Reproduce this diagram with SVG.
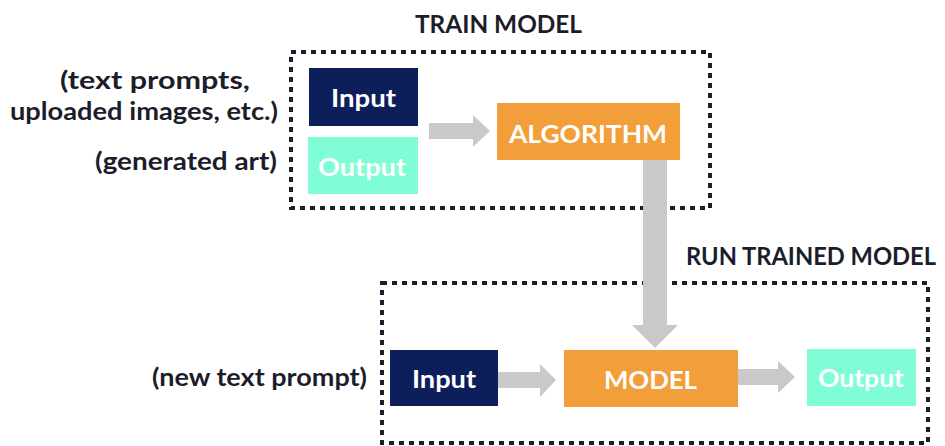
<svg xmlns="http://www.w3.org/2000/svg" width="945" height="446" viewBox="0 0 945 446">
<style>
text{font-family:Lato,"Open Sans","Liberation Sans",sans-serif;font-weight:700;font-size:25px}
.dark{fill:#1c1d2b}
.wht{fill:#ffffff}
.frame{fill:none;stroke:#1c1d2b;stroke-width:4;stroke-dasharray:5 5}
.navy{fill:#0c1f5b}
.aqua{fill:#80fdd6}
.orng{fill:#f19e3b}
.arrow{fill:#c9c9c9}
</style>
<rect width="945" height="446" fill="#ffffff"/>
<g id="train-model">
<rect class="frame" x="291" y="52" width="419" height="156"/>
<text class="dark" x="415" y="33" textLength="167" lengthAdjust="spacingAndGlyphs">TRAIN MODEL</text>
</g>
<g id="run-trained-model">
<rect class="frame" x="382" y="283" width="546" height="160"/>
<text class="dark" x="686" y="265" style="font-size:24px" textLength="250" lengthAdjust="spacingAndGlyphs">RUN TRAINED MODEL</text>
</g>
<g id="labels">
<text class="dark" x="60" y="89" textLength="190" lengthAdjust="spacingAndGlyphs">(text prompts,</text>
<text class="dark" x="10" y="120" textLength="268" lengthAdjust="spacingAndGlyphs">uploaded images, etc.)</text>
<text class="dark" x="95" y="170" textLength="182" lengthAdjust="spacingAndGlyphs">(generated art)</text>
<text class="dark" x="152" y="386" textLength="215" lengthAdjust="spacingAndGlyphs">(new text prompt)</text>
</g>
<g id="train-input">
<rect class="navy" x="309" y="68" width="109" height="58"/>
<text class="wht" x="331" y="107" textLength="65" lengthAdjust="spacingAndGlyphs">Input</text>
</g>
<g id="train-output">
<rect class="aqua" x="308" y="137" width="110" height="57"/>
<text class="wht" x="318" y="176" textLength="88" lengthAdjust="spacingAndGlyphs">Output</text>
</g>
<g id="algorithm">
<rect class="orng" x="497" y="103" width="183" height="57"/>
<text class="wht" x="509" y="143" textLength="158" lengthAdjust="spacingAndGlyphs">ALGORITHM</text>
</g>
<g id="run-input">
<rect class="navy" x="390" y="350" width="108" height="56"/>
<text class="wht" x="412" y="388" textLength="64" lengthAdjust="spacingAndGlyphs">Input</text>
</g>
<g id="model">
<rect class="orng" x="564" y="350" width="174" height="57"/>
<text class="wht" x="604" y="389" textLength="93" lengthAdjust="spacingAndGlyphs">MODEL</text>
</g>
<g id="run-output">
<rect class="aqua" x="807" y="349" width="109" height="57"/>
<text class="wht" x="818" y="387" textLength="86" lengthAdjust="spacingAndGlyphs">Output</text>
</g>
<g id="connectors">
<polygon class="arrow" points="429,123 473,123 473,115 490,131 473,147 473,139 429,139"/>
<polygon class="arrow" points="643,160 667,160 667,325 678,325 655,348 632,325 643,325"/>
<polygon class="arrow" points="498,372 540,372 540,364 556,380 540,397 540,388 498,388"/>
<polygon class="arrow" points="738,369 778,369 778,361 795,377 778,393 778,385 738,385"/>
</g>
</svg>
